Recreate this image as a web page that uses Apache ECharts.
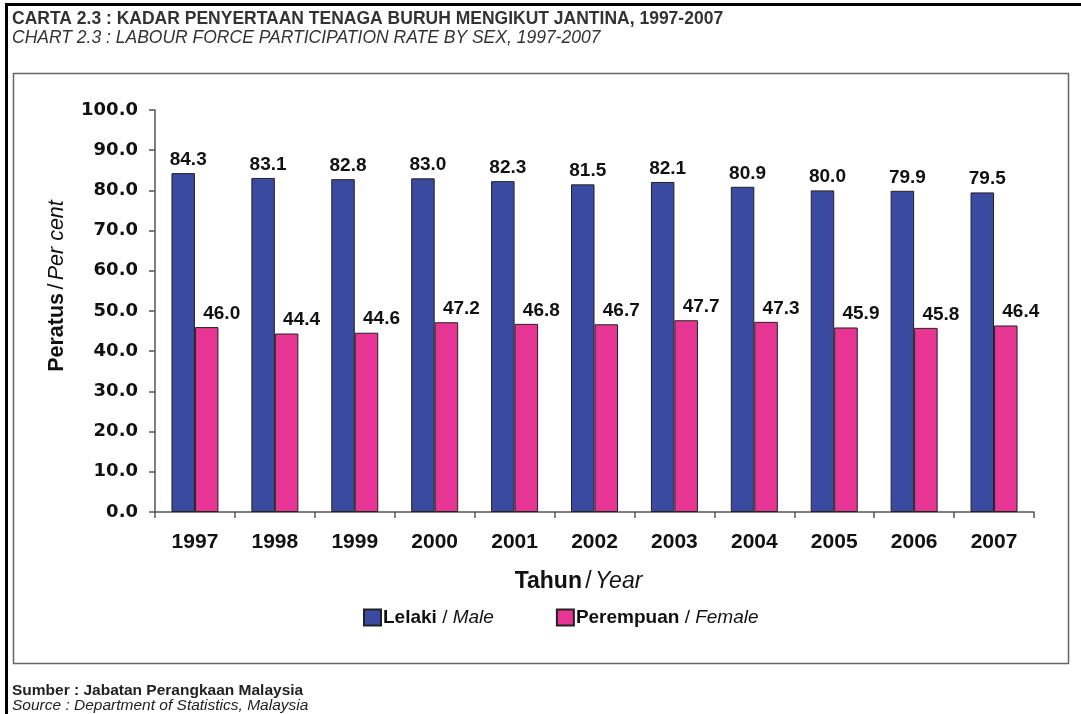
<!DOCTYPE html>
<html><head><meta charset="utf-8">
<script src="https://cdn.jsdelivr.net/npm/echarts@6/dist/echarts.min.js"></script>
<style>html,body{margin:0;padding:0;background:#fff}#c{width:1081px;height:714px}</style>
</head><body><div id="c"></div>
<script>
const years = ['1997','1998','1999','2000','2001','2002','2003','2004','2005','2006','2007'];
const male = [84.3, 83.1, 82.8, 83.0, 82.3, 81.5, 82.1, 80.9, 80.0, 79.9, 79.5];
const female = [46.0, 44.4, 44.6, 47.2, 46.8, 46.7, 47.7, 47.3, 45.9, 45.8, 46.4];
const yTicks = [0, 10, 20, 30, 40, 50, 60, 70, 80, 90, 100];

const F = '"Liberation Sans", Arial, sans-serif';
const chart = echarts.init(document.getElementById('c'), null, {renderer: 'canvas'});
const valLabel = (off) => ({
  show: true, position: 'top', distance: 4, offset: off,
  color: '#111', fontFamily: F, fontWeight: 'bold', fontSize: 19,
  formatter: p => p.value.toFixed(1)
});
const rich = (size) => ({
  b: {fontWeight: 'bold', fontSize: size, fontFamily: F, color: '#111'},
  n: {fontSize: size, fontFamily: F, color: '#111'},
  i: {fontStyle: 'italic', fontSize: size, fontFamily: F, color: '#111'}
});
chart.setOption({
  animation: false,
  backgroundColor: '#fff',
  textStyle: {fontFamily: F},
  graphic: [
    {type: 'line', shape: {x1: 6.5, y1: 3, x2: 6.5, y2: 714}, style: {stroke: '#000', lineWidth: 3}},
    {type: 'line', shape: {x1: 5, y1: 4.5, x2: 1081, y2: 4.5}, style: {stroke: '#000', lineWidth: 3}},
    {type: 'rect', shape: {x: 13.5, y: 73.5, width: 1055, height: 590}, style: {fill: 'none', stroke: '#666', lineWidth: 1.5}},
    {type: 'text', left: 12, top: 10, style: {text: 'CARTA 2.3 : KADAR PENYERTAAN TENAGA BURUH MENGIKUT JANTINA, 1997-2007', font: 'bold 17.5px ' + F, fill: '#333'}},
    {type: 'text', left: 12, top: 29, style: {text: 'CHART 2.3 : LABOUR FORCE PARTICIPATION RATE BY SEX, 1997-2007', font: 'italic 17.5px ' + F, fill: '#333'}},
    {type: 'text', left: 12, top: 683, style: {text: 'Sumber : Jabatan Perangkaan Malaysia', font: 'bold 15.5px ' + F, fill: '#222'}},
    {type: 'text', left: 12, top: 698, style: {text: 'Source : Department of Statistics, Malaysia', font: 'italic 15.5px ' + F, fill: '#222'}}
  ],
  legend: {
    top: 603, left: 358, itemWidth: 17, itemHeight: 16, itemGap: 62,
    icon: 'rect',
    textStyle: {fontFamily: F, fontSize: 19, color: '#111', padding: [0, 0, 0, -3], rich: rich(19)},
    formatter: name => name === 'Lelaki' ? '{b|Lelaki} {n|/} {i|Male}' : '{b|Perempuan} {n|/} {i|Female}',
    data: ['Lelaki', 'Perempuan']
  },
  grid: {left: 155, right: 47, top: 110, bottom: 202, containLabel: false},
  xAxis: {
    type: 'category', data: years,
    name: '{b|Tahun} {n|/} {i|Year}', nameLocation: 'middle', nameGap: 58,
    nameTextStyle: {rich: rich(23), padding: [0, 32, 0, 0]},
    axisLine: {lineStyle: {color: '#555', width: 1.5}},
    axisTick: {show: true, length: 6, lineStyle: {color: '#555', width: 1.5}},
    axisLabel: {color: '#111', fontWeight: 'bold', fontSize: 21, fontFamily: F, margin: 20}
  },
  yAxis: {
    type: 'value', min: 0, max: 100, interval: 10,
    name: '{b|Peratus} {n|/} {i|Per cent}', nameLocation: 'middle', nameGap: 87, nameRotate: 90,
    nameTextStyle: {rich: rich(21.5), padding: [0, 0, 0, 50]},
    axisLine: {show: true, lineStyle: {color: '#555', width: 1.5}},
    axisTick: {show: true, length: 6, lineStyle: {color: '#555', width: 1.5}},
    splitLine: {show: false},
    axisLabel: {color: '#111', fontWeight: 'bold', fontSize: 18, fontFamily: '"DejaVu Sans", sans-serif', margin: 17,
      formatter: v => yTicks.includes(v) ? v.toFixed(1) : ''}
  },
  series: [
    {name: 'Lelaki', type: 'bar', data: male, barWidth: 23.5, barGap: '0%',
     itemStyle: {color: '#3a4aa0', borderColor: '#222', borderWidth: 1},
     label: valLabel([5, 0])},
    {name: 'Perempuan', type: 'bar', data: female, barWidth: 23.5,
     itemStyle: {color: '#e63592', borderColor: '#222', borderWidth: 1},
     label: valLabel([15, 0])}
  ]
});
</script></body></html>
